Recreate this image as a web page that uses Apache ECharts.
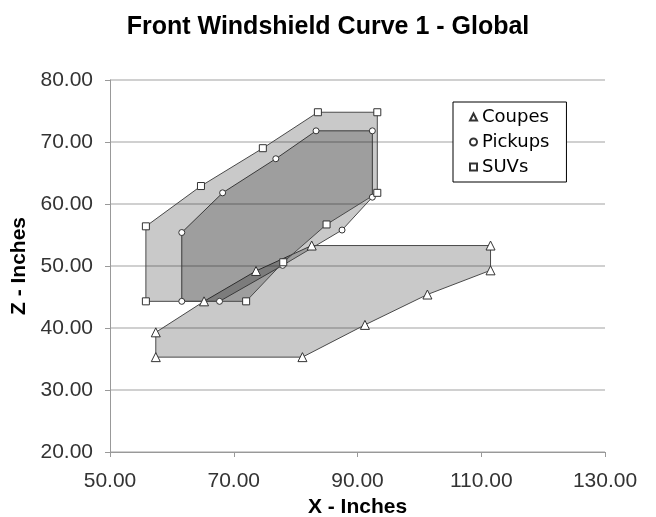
<!DOCTYPE html>
<html><head><meta charset="utf-8">
<script src="https://cdn.jsdelivr.net/npm/echarts@6/dist/echarts.min.js"></script>
<style>html,body{margin:0;padding:0;background:#fff}#c{width:656px;height:517px}</style>
</head><body><div id="c"></div>
<script>
const seriesNames = ['Coupes', 'Pickups', 'SUVs'];
const coupesX = [57.4, 57.4, 81.1, 91.2, 101.3, 111.5, 111.5, 82.6, 73.6, 65.2];
const coupesY = [39.3, 35.3, 35.3, 40.5, 45.4, 49.3, 53.3, 53.3, 49.2, 44.3];
const pickupsX = [61.6, 68.2, 76.8, 83.3, 92.4, 92.4, 87.5, 77.9, 67.7, 61.6];
const pickupsY = [55.4, 61.8, 67.3, 71.8, 71.8, 61.1, 55.8, 50.1, 44.3, 44.3];
const suvsX = [55.8, 64.7, 74.7, 83.6, 93.2, 93.2, 85.0, 78.0, 72.0, 55.8];
const suvsY = [56.4, 62.9, 69.0, 74.8, 74.8, 61.8, 56.7, 50.6, 44.3, 44.3];
const symbols = ['triangle', 'circle', 'rect'];
const symbolSizes = [9, 6, 7];
const xMin = 50, xMax = 130, xStep = 20;
const yMin = 20, yMax = 80, yStep = 10;

const groups = [[coupesX, coupesY], [pickupsX, pickupsY], [suvsX, suvsY]];
const series = [];
groups.forEach(([xs, ys], g) => {
  series.push({
    type: 'custom', silent: true, z: 2,
    data: xs.map((x, i) => [x, ys[i]]),
    renderItem: (params, api) => {
      if (params.dataIndex !== 0) return null;
      const pts = xs.map((x, i) => api.coord([x, ys[i]]));
      return {type: 'polygon', shape: {points: pts},
        style: {fill: 'rgba(0,0,0,0.21)', stroke: '#4a4a4a', lineWidth: 1}};
    }
  });
});
groups.forEach(([xs, ys], g) => {
  series.push({
    name: seriesNames[g], type: 'scatter', z: 5,
    symbol: symbols[g], symbolSize: symbolSizes[g],
    itemStyle: {color: '#fff', borderColor: '#333', borderWidth: 1, opacity: 1},
    data: xs.map((x, i) => [x, ys[i]])
  });
});

const chart = echarts.init(document.getElementById('c'), null, {renderer: 'canvas'});
chart.setOption({
  animation: false,
  backgroundColor: '#fff',
  title: {text: 'Front Windshield Curve 1 - Global', left: 'center', top: 10,
    textStyle: {fontFamily: 'Liberation Sans, Arial', fontSize: 25, fontWeight: 'bold', color: '#000'}},
  grid: {left: 110, right: 51, top: 80, bottom: 65, containLabel: false, outerBoundsMode: 'none'},
  legend: {
    data: seriesNames, orient: 'vertical', left: 453, top: 102,
    padding: [6, 17, 6, 16], itemWidth: 7, itemHeight: 7, itemGap: 7,
    borderColor: '#000', borderWidth: 1, backgroundColor: '#fff',
    textStyle: {fontFamily: 'DejaVu Sans', fontSize: 18, color: '#000'}
  },
  xAxis: {
    type: 'value', min: xMin, max: xMax, interval: xStep,
    name: 'X - Inches', nameLocation: 'middle', nameGap: 39,
    nameTextStyle: {fontFamily: 'Liberation Sans, Arial', fontSize: 21, fontWeight: 'bold', color: '#000'},
    axisLine: {show: true, lineStyle: {color: '#999', width: 1}},
    axisTick: {show: true, inside: false, length: 5, lineStyle: {color: '#999'}},
    axisLabel: {margin: 19, fontFamily: 'Liberation Sans, Arial', fontSize: 21, color: '#333',
      formatter: v => v.toFixed(2)},
    splitLine: {show: false}
  },
  yAxis: {
    type: 'value', min: yMin, max: yMax, interval: yStep,
    name: 'Z - Inches', nameLocation: 'middle', nameGap: 72,
    nameTextStyle: {fontFamily: 'Liberation Sans, Arial', fontSize: 21, fontWeight: 'bold', color: '#000'},
    axisLine: {show: true, lineStyle: {color: '#999', width: 1}},
    axisTick: {show: true, inside: false, length: 5, lineStyle: {color: '#999'}},
    axisLabel: {margin: 17, fontFamily: 'Liberation Sans, Arial', fontSize: 21, color: '#333',
      formatter: v => v.toFixed(2)},
    splitLine: {show: true, lineStyle: {color: '#c0c0c0', width: 1.5}}
  },
  series: series
});
</script></body></html>
